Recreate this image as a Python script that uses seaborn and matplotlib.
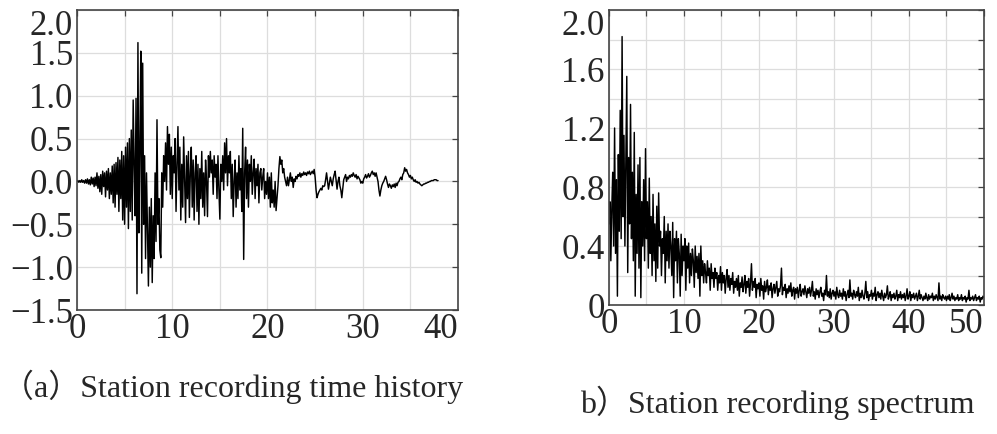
import numpy as np
import pandas as pd
import matplotlib
matplotlib.use("Agg")
import matplotlib.pyplot as plt
from matplotlib.ticker import MultipleLocator
import seaborn as sns

# ---------------- data ----------------
time_step = 0.1  # s
accel = [
    0.00, 0.01, -0.01, 0.01, -0.01, 0.02, -0.01, 0.01, -0.02, 0.02,
    -0.02, 0.03, -0.03, 0.02, -0.04, 0.05, -0.03, 0.04, -0.06, 0.05,
    -0.05, 0.10, -0.08, 0.06, -0.12, 0.08, -0.15, 0.12, -0.06, 0.10,
    -0.18, 0.12, -0.10, 0.15, -0.20, 0.10, -0.15, 0.18, -0.25, 0.20,
    -0.30, 0.22, -0.15, 0.28, -0.35, 0.25, -0.20, 0.35, -0.45, 0.30,
    -0.50, 0.40, -0.30, 0.45, -0.55, 0.50, -0.35, 0.60, -0.45, 0.95,
    0.20, -0.40, 0.97, -1.31, 1.62, -0.60, 0.40, 1.52, -1.07, 1.38,
    -0.50, 0.30, -0.90, 0.10, -0.60, -1.22, -0.30, -1.00, -0.20, -1.18,
    -0.40, -0.90, 0.10, -0.70, 0.72, -0.50, -0.20, -0.80, -0.89, 0.10,
    -0.30, 0.30, 0.00, 0.45, -0.10, 0.64, 0.20, 0.55, -0.15, 0.40,
    -0.20, 0.30, 0.10, 0.50, -0.35, 0.20, 0.64, -0.10, 0.40, -0.45,
    0.20, -0.30, 0.52, 0.00, -0.48, 0.30, -0.20, 0.35, -0.42, 0.10,
    0.40, -0.30, 0.25, -0.45, 0.10, 0.30, -0.35, 0.20, -0.50, 0.15,
    -0.20, 0.35, -0.30, 0.10, -0.40, 0.25, 0.00, -0.41, 0.30, 0.05,
    0.35, 0.10, 0.25, -0.15, 0.30, 0.05, 0.20, -0.20, 0.30, -0.10,
    -0.44, 0.20, 0.00, 0.30, -0.10, 0.45, 0.10, 0.50, -0.05, 0.30,
    0.10, 0.35, -0.20, 0.20, -0.41, 0.00, 0.25, -0.30, 0.10, -0.20,
    0.30, -0.10, 0.15, -0.35, 0.62, -0.91, 0.10, 0.40, -0.20, 0.25,
    -0.30, 0.20, 0.00, 0.30, -0.15, 0.10, 0.26, -0.20, 0.15, -0.05,
    0.20, -0.25, 0.10, 0.15, -0.10, 0.05, 0.15, -0.20, 0.00, -0.15,
    0.10, -0.20, 0.05, -0.30, 0.10, -0.25, -0.10, -0.30, 0.00, -0.34,
    -0.20, -0.05, 0.15, 0.29, 0.20, 0.25, 0.10, 0.15, 0.05, 0.00,
    -0.05, 0.05, -0.05, 0.02, 0.10, 0.00, 0.05, -0.07, 0.03, 0.00,
    0.06, 0.03, 0.08, 0.06, 0.10, 0.05, 0.09, 0.07, 0.11, 0.08,
    0.10, 0.07, 0.11, 0.09, 0.12, 0.08, 0.10, 0.12, 0.09, 0.14,
    0.05, -0.10, -0.19, -0.15, -0.12, -0.10, -0.08, -0.10, -0.05, -0.06,
    -0.05, 0.02, 0.10, 0.00, -0.09, -0.02, 0.05, 0.00, -0.05, 0.03,
    0.08, 0.12, 0.02, -0.09, 0.00, 0.05, -0.05, -0.10, -0.19, -0.08,
    0.02, 0.05, 0.08, 0.00, 0.05, 0.03, 0.07, 0.05, 0.08, 0.06,
    0.10, 0.07, 0.05, 0.08, 0.03, 0.06, 0.04, 0.02, -0.02, 0.00,
    -0.02, 0.03, 0.05, 0.08, 0.04, 0.06, 0.09, 0.05, 0.07, 0.10,
    0.12, 0.08, 0.10, 0.06, 0.10, 0.05, 0.00, -0.10, -0.17, -0.10,
    -0.05, -0.02, 0.00, 0.03, 0.06, 0.02, -0.03, -0.07, -0.03, -0.05,
    -0.08, -0.04, -0.06, -0.03, -0.07, -0.02, -0.05, -0.01, 0.00, 0.03,
    0.05, 0.02, 0.08, 0.10, 0.16, 0.12, 0.14, 0.10, 0.08, 0.05,
    0.07, 0.03, 0.05, 0.02, 0.00, 0.02, -0.01, 0.00, -0.02, -0.01,
    -0.03, -0.04, -0.05, -0.04, -0.03, -0.03, -0.02, -0.02, -0.01, -0.01,
    0.00, 0.00, 0.01, 0.01, 0.01, 0.02, 0.02, 0.02, 0.01, 0.01,
]

freq_step = 0.125  # Hz
amplitude = [
    0.55, 0.70, 0.30, 0.65, 0.90, 0.40, 1.20, 0.35,
    0.85, 0.06, 1.02, 0.50, 1.32, 0.45, 1.82, 0.60,
    1.15, 0.40, 0.95, 1.55, 0.22, 1.00, 0.55, 1.36,
    0.45, 0.90, 0.30, 1.17, 0.06, 0.75, 0.35, 0.95,
    0.25, 1.00, 0.05, 0.70, 0.40, 0.85, 0.30, 1.06,
    0.45, 0.70, 0.25, 0.86, 0.35, 0.60, 0.20, 0.75,
    0.30, 0.55, 0.16, 0.67, 0.25, 0.76, 0.40, 0.50,
    0.20, 0.45, 0.35, 0.60, 0.15, 0.50, 0.30, 0.55,
    0.25, 0.50, 0.40, 0.20, 0.56, 0.05, 0.45, 0.30,
    0.50, 0.15, 0.45, 0.35, 0.06, 0.48, 0.20, 0.40,
    0.30, 0.45, 0.10, 0.40, 0.25, 0.42, 0.15, 0.35,
    0.20, 0.38, 0.30, 0.12, 0.40, 0.22, 0.33, 0.18,
    0.35, 0.06, 0.40, 0.20, 0.30, 0.15, 0.28, 0.22,
    0.15, 0.30, 0.20, 0.25, 0.10, 0.28, 0.18, 0.22,
    0.12, 0.25, 0.18, 0.22, 0.10, 0.20, 0.15, 0.26,
    0.10, 0.22, 0.15, 0.20, 0.08, 0.18, 0.24, 0.12,
    0.20, 0.10, 0.18, 0.14, 0.22, 0.08, 0.16, 0.12,
    0.18, 0.10, 0.20, 0.06, 0.15, 0.12, 0.19, 0.09,
    0.14, 0.20, 0.08, 0.16, 0.12, 0.18, 0.06, 0.15,
    0.28, 0.10, 0.16, 0.12, 0.18, 0.05, 0.14, 0.11,
    0.15, 0.06, 0.18, 0.10, 0.13, 0.04, 0.16, 0.09,
    0.12, 0.17, 0.07, 0.13, 0.10, 0.15, 0.05, 0.11,
    0.14, 0.08, 0.12, 0.16, 0.06, 0.11, 0.09, 0.13,
    0.25, 0.07, 0.12, 0.10, 0.14, 0.05, 0.11, 0.08,
    0.13, 0.09, 0.15, 0.06, 0.10, 0.12, 0.04, 0.11,
    0.08, 0.12, 0.05, 0.10, 0.14, 0.06, 0.09, 0.11,
    0.07, 0.13, 0.09, 0.05, 0.11, 0.08, 0.12, 0.06,
    0.10, 0.16, 0.06, 0.09, 0.04, 0.11, 0.07, 0.10,
    0.05, 0.09, 0.12, 0.06, 0.08, 0.03, 0.10, 0.07,
    0.20, 0.06, 0.09, 0.05, 0.11, 0.04, 0.08, 0.10,
    0.06, 0.09, 0.04, 0.12, 0.07, 0.05, 0.10, 0.06,
    0.08, 0.04, 0.11, 0.06, 0.09, 0.03, 0.07, 0.10,
    0.05, 0.17, 0.06, 0.08, 0.04, 0.10, 0.07, 0.05,
    0.09, 0.06, 0.12, 0.03, 0.08, 0.05, 0.10, 0.06,
    0.04, 0.08, 0.16, 0.05, 0.09, 0.03, 0.07, 0.06,
    0.10, 0.04, 0.08, 0.06, 0.12, 0.03, 0.07, 0.09,
    0.05, 0.08, 0.04, 0.10, 0.06, 0.03, 0.08, 0.05,
    0.07, 0.13, 0.04, 0.06, 0.09, 0.03, 0.07, 0.05,
    0.08, 0.04, 0.06, 0.10, 0.03, 0.07, 0.05, 0.09,
    0.04, 0.07, 0.05, 0.08, 0.03, 0.06, 0.11, 0.04,
    0.06, 0.09, 0.03, 0.07, 0.05, 0.08, 0.04, 0.06,
    0.08, 0.03, 0.06, 0.10, 0.04, 0.07, 0.05, 0.03,
    0.06, 0.04, 0.08, 0.05, 0.03, 0.07, 0.04, 0.06,
    0.05, 0.08, 0.03, 0.06, 0.04, 0.07, 0.05, 0.03,
    0.15, 0.04, 0.06, 0.03, 0.07, 0.05, 0.04, 0.06,
    0.03, 0.06, 0.04, 0.07, 0.03, 0.05, 0.08, 0.04,
    0.06, 0.03, 0.05, 0.04, 0.07, 0.03, 0.05, 0.04,
    0.07, 0.03, 0.05, 0.04, 0.06, 0.02, 0.05, 0.04,
    0.10, 0.03, 0.05, 0.04, 0.06, 0.03, 0.05, 0.07,
    0.03, 0.05, 0.04, 0.06, 0.02, 0.05, 0.04, 0.06,
    0.05,
]

left_yticks = [-1.5, -1.0, -0.5, 0.0, 0.5, 1.0, 1.5, 2.0]
left_ylabels = ["\u22121.5", "\u22121.0", "\u22120.5", "0.0", "0.5", "1.0", "1.5", "2.0"]
left_xticks = [0, 10, 20, 30, 40]
right_yticks = [0.0, 0.4, 0.8, 1.2, 1.6, 2.0]
right_ylabels = ["0", "0.4", "0.8", "1.2", "1.6", "2.0"]
right_xticks = [0, 10, 20, 30, 40, 50]

caption_a = "（a）Station recording time history"
caption_b = "b）Station recording spectrum"

# ---------------- style ----------------
sns.set_theme(style="white")
plt.rcParams["font.family"] = ["Liberation Serif", "Noto Sans CJK SC"]

df_t = pd.DataFrame({"t": np.arange(len(accel)) * time_step, "a": accel})
df_f = pd.DataFrame({"f": np.arange(len(amplitude)) * freq_step, "A": amplitude})

fig = plt.figure(figsize=(9.97, 4.34), dpi=100)
ax1 = fig.add_axes([0.0772, 0.2857, 0.3822, 0.6912])
ax2 = fig.add_axes([0.6108, 0.2972, 0.3761, 0.6797])

sns.lineplot(data=df_t, x="t", y="a", ax=ax1, color="black", lw=1.05,
             estimator=None, sort=False)
sns.lineplot(data=df_f, x="f", y="A", ax=ax2, color="black", lw=1.05,
             estimator=None, sort=False)

grid_c = "#dddddd"

ax1.set_xlim(0, 40)
ax1.set_ylim(-1.5, 2.0)
ax1.set_xticks(left_xticks)
ax1.xaxis.set_minor_locator(MultipleLocator(5))
ax1.set_yticks(left_yticks)
ax1.set_yticklabels(left_ylabels)

ax2.set_xlim(0, 50)
ax2.set_ylim(0, 2.0)
ax2.set_xticks(right_xticks)
ax2.xaxis.set_minor_locator(MultipleLocator(5))
ax2.set_yticks(right_yticks)
ax2.set_yticklabels(right_ylabels)
ax2.yaxis.set_minor_locator(MultipleLocator(0.2))

for ax in (ax1, ax2):
    ax.set_xlabel("")
    ax.set_ylabel("")
    ax.set_axisbelow(True)
    ax.grid(True, which="both", color=grid_c, lw=0.9)
    for s in ax.spines.values():
        s.set_color("#444444")
        s.set_linewidth(1.2)
    ax.tick_params(which="both", direction="in", top=True, right=True,
                   length=4, width=0.9, color="#444444")
    ax.tick_params(axis="y", labelsize=25, pad=3)
    ax.tick_params(axis="x", labelsize=25, pad=2)
    ax.yaxis.get_major_ticks()[-1].label1.set_verticalalignment("top")
    ax.xaxis.get_major_ticks()[-1].label1.set_horizontalalignment("right")

fig.text(0.002, 1 - 397 / 434, caption_a, fontsize=23, va="baseline", ha="left")
fig.text(580 / 997, 1 - 413 / 434, caption_b, fontsize=23, va="baseline", ha="left")

fig.savefig("out.png", dpi=100)
